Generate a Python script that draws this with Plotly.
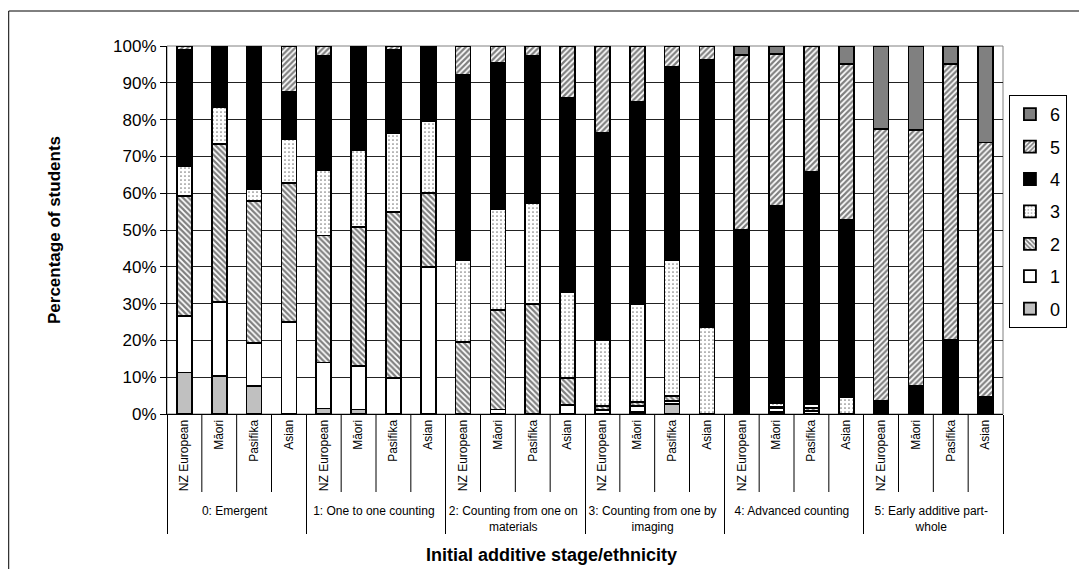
import plotly.graph_objects as go

# Stage groups and ethnicities along the x axis
stages = [
    "0: Emergent",
    "1: One to one counting",
    "2: Counting from one on<br>materials",
    "3: Counting from one by<br>imaging",
    "4: Advanced counting",
    "5: Early additive part-<br>whole",
]
ethnicities = ["NZ European", "Māori", "Pasifika", "Asian"]

# Percentage of students reaching each final stage (0-6), per stage/ethnicity
final_0 = [11.3, 10.4, 7.7, 0, 1.5, 1.2, 0, 0, 0, 0, 0, 0,
           0, 0.5, 2.7, 0, 0, 0.5, 0, 0, 0, 0, 0, 0]
final_1 = [15.3, 20.1, 11.5, 25.0, 12.5, 11.9, 9.7, 39.9, 0, 1.2, 0, 2.4,
           1.0, 1.6, 0.9, 0, 0.5, 1.0, 0.8, 0, 0, 0, 0, 0]
final_2 = [32.6, 42.9, 38.6, 37.8, 34.5, 37.8, 45.1, 20.2, 19.6, 27.1, 29.8, 7.3,
           1.2, 1.2, 1.4, 0, 0.5, 0.5, 0.9, 0, 0, 0, 0, 0]
final_3 = [8.1, 10.0, 3.4, 11.9, 17.7, 20.7, 21.5, 19.4, 22.2, 27.4, 27.6, 23.3,
           17.9, 26.5, 36.8, 23.7, 0.5, 1.0, 1.0, 4.5, 0, 0.5, 0, 0]
final_4 = [31.6, 16.6, 38.8, 12.9, 31.1, 27.9, 22.6, 20.5, 50.3, 39.6, 39.9, 53.0,
           56.4, 55.1, 52.6, 72.5, 48.6, 53.5, 63.2, 48.3, 3.6, 7.2, 20.1, 4.7]
final_5 = [1.1, 0, 0, 12.4, 2.7, 0.5, 1.1, 0, 7.9, 4.7, 2.7, 14.0,
           23.5, 15.1, 5.6, 3.8, 47.5, 41.3, 34.1, 42.3, 73.8, 69.4, 75.0, 69.1]
final_6 = [0, 0, 0, 0, 0, 0, 0, 0, 0, 0, 0, 0,
           0, 0, 0, 0, 2.4, 2.2, 0, 4.9, 22.6, 22.9, 4.9, 26.2]

series_names = ["0", "1", "2", "3", "4", "5", "6"]
series_values = [final_0, final_1, final_2, final_3, final_4, final_5, final_6]

# Fill style per final stage: (background colour, pattern shape)
styles = [
    ("#c0c0c0", ""),
    ("#ffffff", ""),
    ("#ffffff", "\\"),
    ("#ffffff", "."),
    ("#000000", ""),
    ("#ffffff", "/"),
    ("#808080", ""),
]

x_outer = [s for s in stages for _ in ethnicities]
x_inner = [e for _ in stages for e in ethnicities]

FONT = "Arial, Liberation Sans, sans-serif"

fig = go.Figure()
for i, (name, vals, (bg, shape)) in enumerate(zip(series_names, series_values, styles)):
    pattern = dict(shape=shape)
    if shape == ".":
        pattern.update(fgcolor="#000000", bgcolor="#ffffff", size=4, solidity=0.15)
    elif shape:
        pattern.update(fgcolor="#000000", bgcolor="#ffffff", size=4, solidity=0.55)
    fig.add_trace(go.Bar(
        name=name,
        legendgroup=name,
        legendrank=1000 - 10 * i,  # highest stage listed first
        x=[x_outer, x_inner],
        y=[v if v else None for v in vals],
        marker=dict(color=bg, line=dict(color="#000000", width=1.8), pattern=pattern),
    ))

# Plot-area geometry in pixels
W, H = 1079, 569
L, R, T, B = 167, 67, 46, 155
pw, ph = W - L - R, H - T - B

def px_x(p):
    return (p - L) / pw

def px_y(p):
    return (H - B - p) / ph

shapes = []
# Boundary ticks between ethnicities inside each stage group
n = len(x_inner)
for k in range(1, n):
    if k % len(ethnicities) == 0:
        continue
    shapes.append(dict(type="line", xref="paper", yref="paper",
                       x0=k / n, x1=k / n, y0=0, y1=px_y(492),
                       line=dict(color="#000000", width=1)))
# Outer chart frame
shapes.append(dict(type="rect", xref="paper", yref="paper",
                   x0=px_x(7), x1=px_x(1100), y0=px_y(590), y1=px_y(11),
                   line=dict(color="#000000", width=1), layer="below"))
# Plot-area border
shapes.append(dict(type="rect", xref="paper", yref="paper",
                   x0=0, x1=1, y0=0, y1=1,
                   line=dict(color="#808080", width=1), layer="below"))

fig.update_layout(
    width=W, height=H,
    margin=dict(l=L, r=R, t=T, b=B),
    barmode="stack",
    bargap=0.57,
    paper_bgcolor="#ffffff",
    plot_bgcolor="#ffffff",
    font=dict(family=FONT, color="#000000"),
    showlegend=True,
    legend=dict(
        traceorder="grouped",
        x=px_x(1018), y=px_y(95), xanchor="left", yanchor="top",
        bordercolor="#000000", borderwidth=1,
        font=dict(size=18, family=FONT),
        itemwidth=30,
        tracegroupgap=6,
    ),
    shapes=shapes,
    annotations=[
        dict(text="<b>Initial additive stage/ethnicity</b>", xref="paper", yref="paper",
             x=px_x(556), y=px_y(555), xanchor="center", yanchor="middle",
             showarrow=False, font=dict(size=18, family=FONT)),
    ],
)

fig.update_xaxes(
    type="multicategory",
    tickangle=-90,
    tickfont=dict(size=12, family=FONT),
    showline=True, linecolor="#000000", linewidth=1,
    ticks="",
    showdividers=True, dividercolor="#000000", dividerwidth=1,
    showgrid=False,
)
fig.update_yaxes(
    range=[0, 100], dtick=10, ticksuffix="%",
    tickfont=dict(size=17, family=FONT),
    showline=True, linecolor="#000000", linewidth=1,
    ticks="outside", ticklen=6, tickcolor="#000000",
    showgrid=True, gridcolor="#222222", gridwidth=1,
    zeroline=False,
    title=dict(text="<b>Percentage of students</b>", font=dict(size=17, family=FONT), standoff=48),
)

fig.write_html("out.html")
